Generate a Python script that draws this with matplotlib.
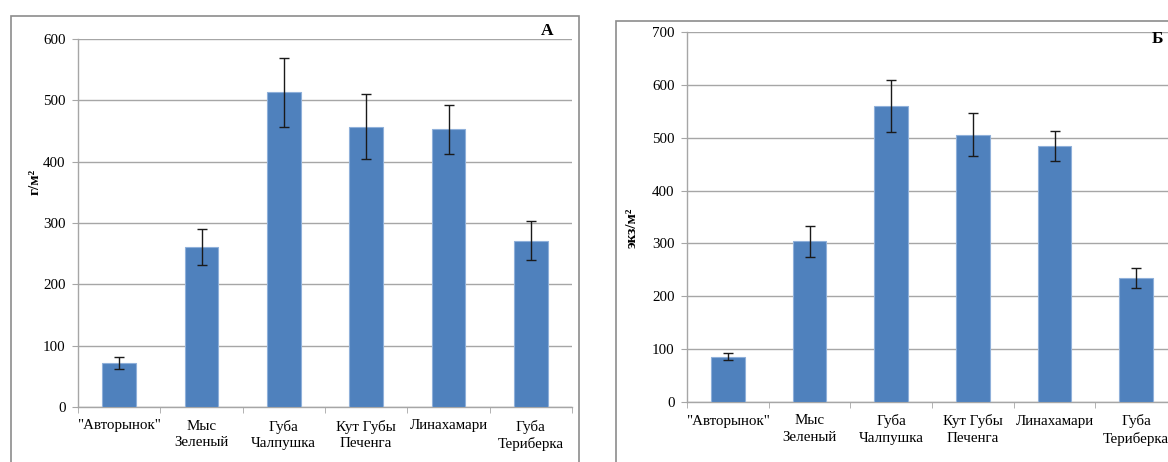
import matplotlib
matplotlib.use("Agg")
import matplotlib.pyplot as plt
from matplotlib.patches import Rectangle

plt.rcParams['font.family'] = ['Liberation Serif', 'DejaVu Serif']

sites = ['"Авторынок"', 'Мыс\nЗеленый', 'Губа\nЧалпушка', 'Кут Губы\nПеченга',
         'Линахамари', 'Губа\nТериберка']

biomass = [72, 261, 513, 457, 453, 271]
biomass_err = [10, 29, 56, 53, 40, 32]

abundance = [86, 304, 560, 506, 484, 234]
abundance_err = [7, 29, 50, 41, 28, 19]

W, H = 1168, 462
fig = plt.figure(figsize=(W / 100, H / 100), dpi=100)

bar_color = '#4F81BD'
edge_color = '#8FB0DA'
grid_color = '#a6a6a6'


def panel(rect, values, errors, ymax, ylabel, label_xy, letter, letter_xy):
    ax = fig.add_axes(rect)
    x = list(range(len(values)))
    ax.bar(x, values, width=0.41, color=bar_color, edgecolor=edge_color,
           linewidth=0.8, zorder=3)
    ax.errorbar(x, values, yerr=errors, fmt='none', ecolor='#1a1a1a',
                elinewidth=1.0, capsize=3.5, capthick=1.0, zorder=4)
    ax.set_xlim(-0.5, len(values) - 0.5)
    ax.set_ylim(0, ymax)
    ax.set_yticks(range(0, ymax + 1, 100))
    ax.yaxis.grid(True, color=grid_color, linewidth=1.0, zorder=0)
    ax.set_axisbelow(True)
    for s in ('top', 'right'):
        ax.spines[s].set_visible(False)
    for s in ('left', 'bottom'):
        ax.spines[s].set_color(grid_color)
        ax.spines[s].set_linewidth(1.0)
    ax.set_xticks(x)
    ax.set_xticklabels(sites, fontsize=10.8, linespacing=1.35)
    ax.set_xticks([i - 0.5 for i in range(len(values) + 1)], minor=True)
    ax.tick_params(axis='x', which='major', length=0, pad=9)
    ax.tick_params(axis='x', which='minor', length=4, color=grid_color,
                   direction='out')
    ax.tick_params(axis='y', length=4, color=grid_color, labelsize=10.8, pad=5)
    fig.text(label_xy[0] / W, 1 - label_xy[1] / H, ylabel, rotation=90,
             ha='center', va='center', fontsize=11, fontweight='bold')
    fig.text(letter_xy[0] / W, 1 - letter_xy[1] / H, letter,
             ha='center', va='center', fontsize=12.5, fontweight='bold')
    return ax


# frames around each panel
fig.patches.append(Rectangle((11 / W, -0.05), (579 - 11) / W, 1 - 16 / H + 0.05,
                             transform=fig.transFigure, fill=False,
                             edgecolor='#8c8c8c', linewidth=1.2))
fig.patches.append(Rectangle((616 / W, -0.05), 0.5, 1 - 21 / H + 0.05,
                             transform=fig.transFigure, fill=False,
                             edgecolor='#8c8c8c', linewidth=1.2))

panel([78 / W, 55 / H, 494 / W, 368 / H], biomass, biomass_err, 600,
      'г/м²', (35, 182), 'А', (547, 31))
panel([687 / W, 60 / H, 490 / W, 370 / H], abundance, abundance_err, 700,
      'экз/м²', (632, 228), 'Б', (1157, 39))

fig.savefig('out.png', dpi=100)
